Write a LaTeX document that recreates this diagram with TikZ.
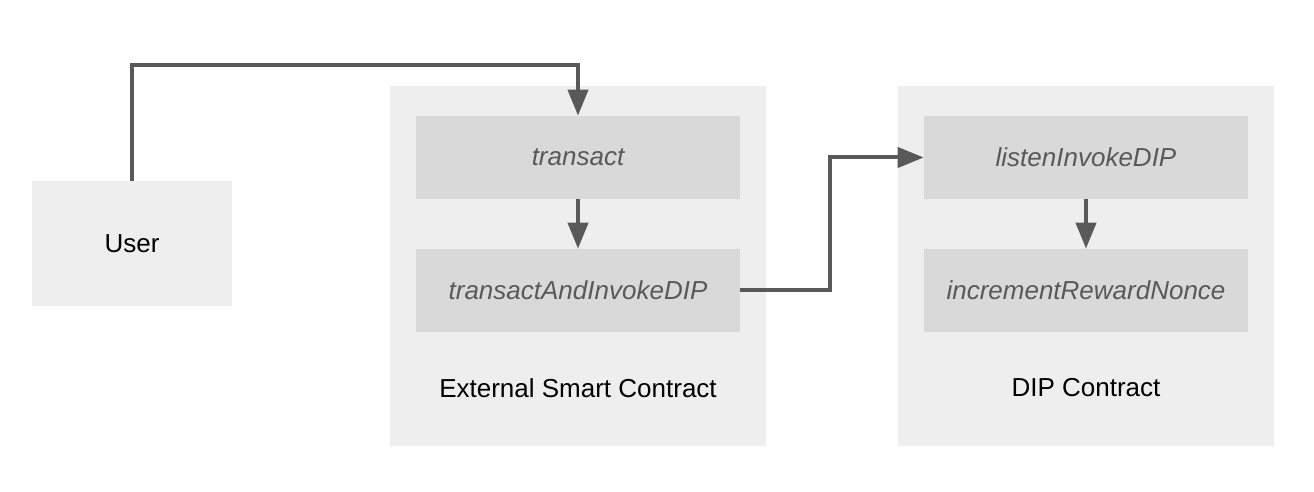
\documentclass[tikz,border=0pt]{standalone}
\usepackage{fontspec}
\setmainfont{Liberation Sans}
\usetikzlibrary{arrows.meta}
\definecolor{boxlight}{HTML}{EEEEEE}
\definecolor{boxdark}{HTML}{D9D9D9}
\definecolor{linegray}{HTML}{595959}

\begin{document}
\begin{tikzpicture}[x=0.02cm, y=-0.02cm,
  font=\fontsize{14.8}{18}\selectfont,
  outer/.style={fill=boxlight, inner sep=0pt, minimum width=7.52cm, minimum height=7.2cm},
  func/.style={fill=boxdark, inner sep=0pt, minimum width=6.48cm, minimum height=1.66cm,
    text=linegray, font=\fontsize{14.8}{18}\selectfont\itshape},
  flow/.style={draw=linegray, line width=0.08cm, line join=miter,
    -{Triangle[width=0.4cm, length=0.52cm]}}]
  \useasboundingbox (0,0) rectangle (1314,492);
  % boxes
  \node[fill=boxlight, minimum width=4cm, minimum height=2.5cm] (user) at (132,243.5) {User};
  \node[outer] (ext) at (578,266) {};
  \node[outer] (dip) at (1086,266) {};
  \node[func] (transact) at (578,157.5) {transact};
  \node[func] (invoke) at (578,290.5) {transactAndInvokeDIP};
  \node[func] (listen) at (1086,157.5) {listenInvokeDIP};
  \node[func] (nonce) at (1086,290.5) {incrementRewardNonce};
  \node (extlabel) at (578,388) {External Smart Contract};
  \node (diplabel) at (1086,388) {DIP Contract};
  % arrows
  \draw[flow] (user.north) -- (user.north |- 0,65) -| (transact.north);
  \draw[flow] (transact) -- (invoke);
  \draw[flow] (invoke.east) -- ++(90,0) |- (listen.west);
  \draw[flow] (listen) -- (nonce);
\end{tikzpicture}
\end{document}
